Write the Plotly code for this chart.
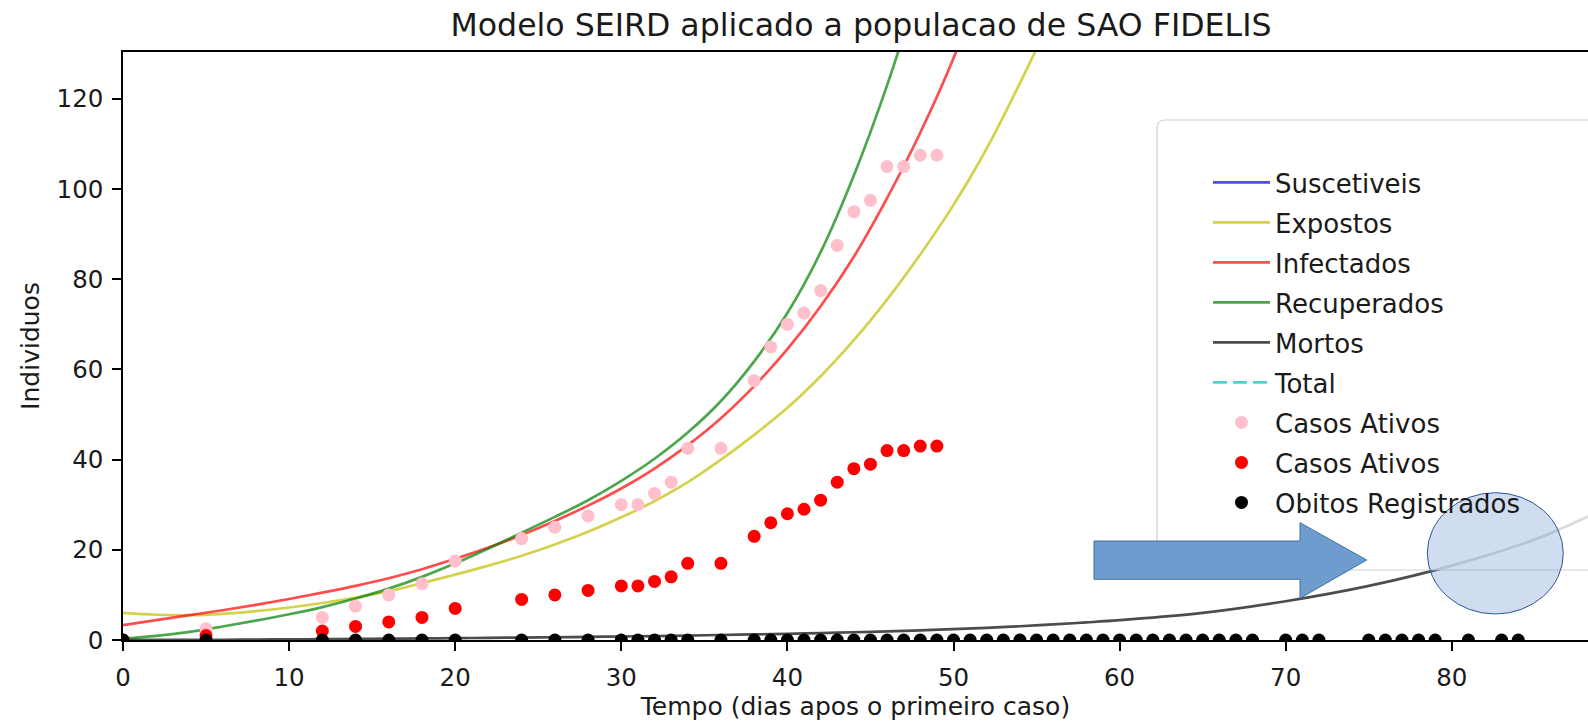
import plotly.graph_objects as go

# ---------------- data ----------------
t_model = [0, 2, 4, 6, 8, 10, 12, 14, 16, 18, 20, 22, 24, 26, 28, 30, 32, 34, 36, 38,
           40, 42, 44, 46, 48, 50, 52, 54, 56, 58, 60, 65, 70, 75, 80, 85, 89]

expostos = [6.0, 5.6, 5.5, 5.8, 6.4, 7.2, 8.2, 9.4, 10.8, 12.6, 14.5, 16.5, 18.7, 21.2,
            24.0, 27.2, 30.8, 35.0, 40.0, 45.5, 51.5, 58.5, 66.5, 75.5, 85.5, 96.5, 109,
            123.5, 139, 156, 175, 235, 315, 420, 560, 740, 920]
infectados = [3.3, 4.4, 5.5, 6.6, 7.8, 9.1, 10.5, 12.0, 13.7, 15.7, 18.0, 20.5, 23.3, 26.4,
              29.8, 33.6, 38.0, 43.2, 49.2, 56.3, 64.5, 74.0, 85.0, 98.0, 112.5, 129, 149,
              170, 193, 218, 246, 330, 440, 580, 760, 990, 1200]
recuperados = [0.3, 0.9, 1.8, 3.0, 4.3, 5.7, 7.3, 9.2, 11.4, 14.0, 17.0, 20.3, 23.8, 27.3,
               31.0, 35.3, 40.2, 46.0, 53.0, 61.8, 72.5, 86.0, 103, 123, 146, 171, 200,
               232, 270, 312, 360, 510, 720, 1000, 1380, 1880, 2400]
mortos = [0.0, 0.01, 0.03, 0.06, 0.10, 0.14, 0.19, 0.24, 0.29, 0.35, 0.41, 0.47, 0.54, 0.61,
          0.69, 0.78, 0.88, 0.99, 1.11, 1.24, 1.38, 1.54, 1.72, 1.92, 2.15, 2.40, 2.70,
          3.05, 3.45, 3.90, 4.40, 6.0, 8.6, 12.0, 16.5, 22.3, 28.8]

# off-scale curves (only visible in the legend)
t_outside = [0, 30, 60, 89]
suscetiveis = [37531, 37420, 36980, 35400]
total = [37543, 37543, 37543, 37543]

dias_casos = [0, 5, 12, 14, 16, 18, 20, 24, 26, 28, 30, 31, 32, 33, 34, 36, 38, 39, 40,
              41, 42, 43, 44, 45, 46, 47, 48, 49]
casos_rosa = [0, 2.5, 5, 7.5, 10, 12.5, 17.5, 22.5, 25, 27.5, 30, 30, 32.5, 35, 42.5, 42.5,
              57.5, 65, 70, 72.5, 77.5, 87.5, 95, 97.5, 105, 105, 107.5, 107.5]
casos_vermelho = [0, 1, 2, 3, 4, 5, 7, 9, 10, 11, 12, 12, 13, 14, 17, 17, 23, 26, 28, 29,
                  31, 35, 38, 39, 42, 42, 43, 43]

dias_obitos = [0, 5, 12, 14, 16, 18, 20, 24, 26, 28, 30, 31, 32, 33, 34, 36,
               38, 39, 40, 41, 42, 43, 44, 45, 46, 47, 48, 49, 50, 51, 52, 53, 54, 55, 56,
               57, 58, 59, 60, 61, 62, 63, 64, 65, 66, 67, 68, 70, 71, 72, 75, 76, 77, 78,
               79, 81, 83, 84]
obitos = [0, 0, 0, 0, 0, 0, 0, 0, 0, 0, 0, 0, 0, 0, 0, 0,
          0, 0, 0, 0, 0, 0, 0, 0, 0, 0, 0, 0, 0, 0, 0, 0, 0, 0, 0,
          0, 0, 0, 0, 0, 0, 0, 0, 0, 0, 0, 0, 0, 0, 0, 0, 0, 0, 0,
          0, 0, 0, 0]

x_ticks = [0, 10, 20, 30, 40, 50, 60, 70, 80]
y_ticks = [0, 20, 40, 60, 80, 100, 120]

# ---------------- layout geometry ----------------
W, H = 1588, 724
PL, PR, PT, PB = 123, 1588, 52, 640
FONT = "DejaVu Sans"


def px(X):
    return (X - PL) / (PR - PL)


def py(Y):
    return (PB - Y) / (PB - PT)


fig = go.Figure()

LW = 2.7
lines = [
    ("Suscetiveis", t_outside, suscetiveis, "rgba(0,0,255,0.7)", "solid"),
    ("Expostos", t_model, expostos, "rgba(191,191,0,0.7)", "solid"),
    ("Infectados", t_model, infectados, "rgba(255,0,0,0.7)", "solid"),
    ("Recuperados", t_model, recuperados, "rgba(0,128,0,0.7)", "solid"),
    ("Mortos", t_model, mortos, "rgba(0,0,0,0.7)", "solid"),
    ("Total", t_outside, total, "rgba(0,191,191,0.7)", "14px,6px"),
]
for i, (name, xs, ys, col, dash) in enumerate(lines):
    fig.add_trace(go.Scatter(
        x=xs, y=ys, name=name, mode="lines", legendgroup=f"g{i}",
        line=dict(color=col, width=LW, dash=dash, shape="spline", smoothing=1.0),
    ))

pts = [
    ("Casos Ativos", dias_casos, casos_rosa, "pink"),
    ("Casos Ativos", dias_casos, casos_vermelho, "red"),
    ("Obitos Registrados", dias_obitos, obitos, "black"),
]
for j, (name, xs, ys, col) in enumerate(pts):
    fig.add_trace(go.Scatter(
        x=xs, y=ys, name=name, mode="markers", legendgroup=f"p{j}",
        marker=dict(color=col, size=13, line=dict(width=0)),
    ))

# legend frame (matplotlib-like, rounded)
X0, X1, Y0, Y1, r = 1157, 1610, 120, 570, 8
frame = (f"M {px(X0 + r)},{py(Y0)} L {px(X1)},{py(Y0)} L {px(X1)},{py(Y1)} "
         f"L {px(X0 + r)},{py(Y1)} Q {px(X0)},{py(Y1)} {px(X0)},{py(Y1 - r)} "
         f"L {px(X0)},{py(Y0 + r)} Q {px(X0)},{py(Y0)} {px(X0 + r)},{py(Y0)} Z")

# arrow
arrow = (f"M {px(1094)},{py(541)} L {px(1300)},{py(541)} L {px(1300)},{py(522.7)} "
         f"L {px(1366.7)},{py(560)} L {px(1300)},{py(598.3)} L {px(1300)},{py(579.3)} "
         f"L {px(1094)},{py(579.3)} Z")

shapes = [
    dict(type="path", xref="paper", yref="paper", path=frame, layer="above",
         fillcolor="rgba(255,255,255,0.8)", line=dict(color="rgba(204,204,204,0.9)", width=1.2)),
    dict(type="path", xref="paper", yref="paper", path=arrow, layer="above",
         fillcolor="#6f9ccf", line=dict(color="#41719c", width=1)),
    dict(type="circle", xref="paper", yref="paper", layer="above",
         x0=px(1427.3), x1=px(1563.3), y0=py(614), y1=py(492.7),
         fillcolor="rgba(68,114,196,0.25)", line=dict(color="#2f5597", width=1)),
]

axis_common = dict(
    showgrid=False, zeroline=False, showline=True, linecolor="black", linewidth=1.5,
    ticks="outside", ticklen=9, tickwidth=1.5, tickcolor="black",
    tickfont=dict(family=FONT, size=24.5, color="#1a1a1a"),
)

fig.update_layout(
    width=W, height=H,
    margin=dict(l=PL, r=W - PR, t=PT, b=H - PB, pad=0),
    paper_bgcolor="white", plot_bgcolor="white",
    title=dict(text="Modelo SEIRD aplicado a populacao de SAO FIDELIS",
               font=dict(family=FONT, size=31.6, color="#1a1a1a"),
               x=861 / W, xref="container", xanchor="center",
               y=1 - 25 / H, yref="container", yanchor="middle"),
    xaxis=dict(range=[0, 88.2], tickvals=x_ticks, mirror=True, ticklabelstandoff=6,
               title=dict(text="Tempo (dias apos o primeiro caso)",
                          font=dict(family=FONT, size=25, color="#1a1a1a"), standoff=3),
               **axis_common),
    yaxis=dict(range=[0, 130.4], tickvals=y_ticks, mirror=False, ticklabelstandoff=4,
               title=dict(text="Individuos",
                          font=dict(family=FONT, size=25, color="#1a1a1a"), standoff=10),
               **axis_common),
    legend=dict(x=px(1208), xanchor="left", y=py(159), yanchor="top",
                bgcolor="rgba(0,0,0,0)", borderwidth=0, tracegroupgap=3.2,
                itemwidth=57,
                font=dict(family=FONT, size=26, color="#1a1a1a")),
    shapes=shapes,
    showlegend=True,
)

fig.write_html("out.html",
               config={"displayModeBar": False},
               post_script="document.body.style.margin='0';"
                           "document.body.style.overflow='hidden';")
